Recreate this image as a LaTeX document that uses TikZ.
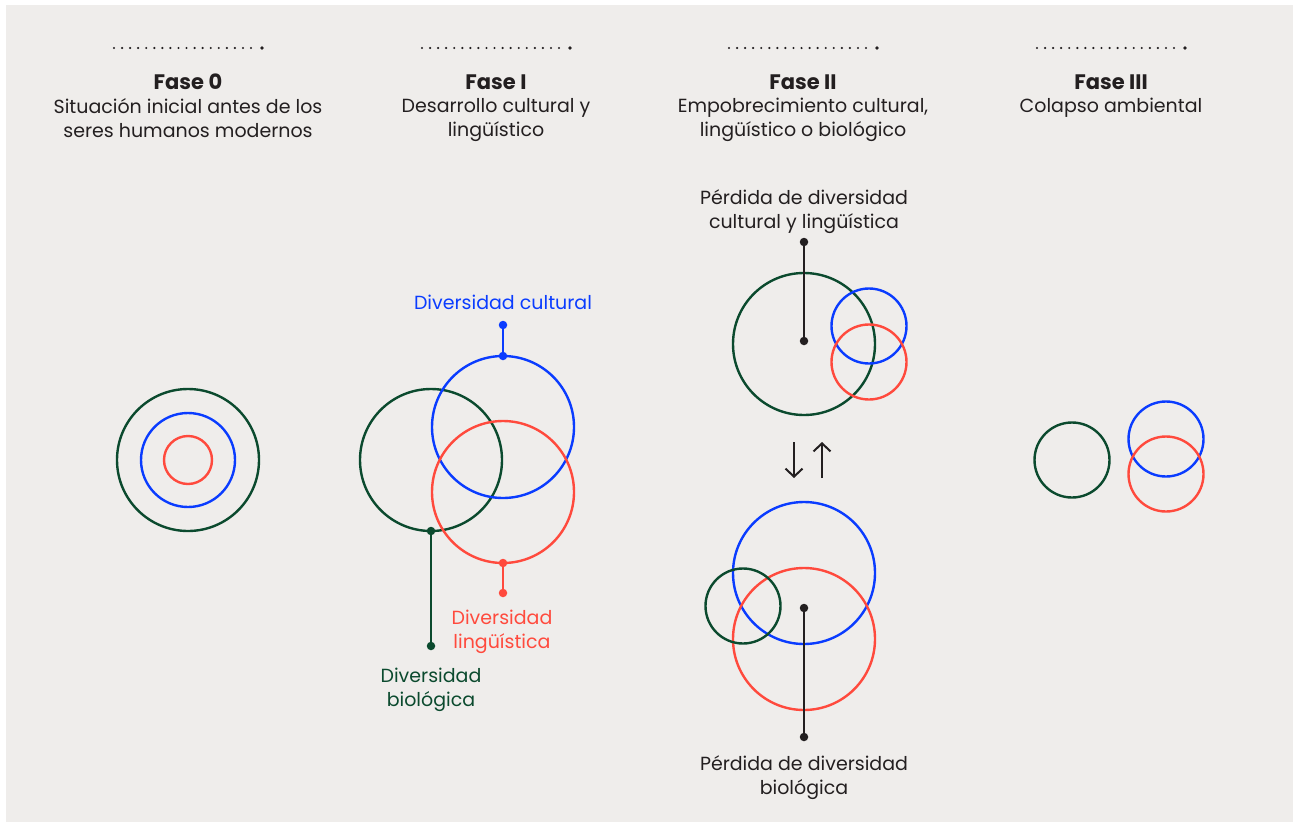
\documentclass[tikz,border=0pt]{standalone}
\usepackage{fontspec}
\setmainfont{Poppins}
\usetikzlibrary{arrows.meta}

\definecolor{paper}{HTML}{EFEDEB}
\definecolor{bioGreen}{HTML}{0B4A2E}
\definecolor{culBlue}{HTML}{0A3CFF}
\definecolor{lingRed}{HTML}{FF4A3D}
\definecolor{ink}{HTML}{231F20}

\tikzset{
  ring/.style={circle, draw, line width=2.4pt, inner sep=0pt, outer sep=0pt, minimum size=#1},
  pindot/.style={circle, fill, inner sep=0pt, minimum size=8.5pt},
  pinline/.style={line width=2pt},
  phasetitle/.style={font=\bfseries\fontsize{21}{24}\selectfont, text=ink, anchor=base},
  phasetext/.style={align=center, font=\fontsize{19}{24}\selectfont, text=ink, anchor=north, inner sep=0pt},
  tagtext/.style={align=center, font=\fontsize{19}{24}\selectfont},
  swaparrow/.style={line width=2pt, ink, -{Straight Barb[length=8pt,width=17pt,line width=2pt]}},
}

\begin{document}
\begin{tikzpicture}[x=1pt, y=-1pt]
    % Page and background
    \useasboundingbox (0,0) rectangle (1293,822);
    \fill[white] (0,0) rectangle (1293,822);
    \fill[paper] (6,5) rectangle (1293,822);

    % Phase headers
    \foreach \x/\ph/\title/\desc in {
        188/p0/{Fase 0}/{Situación inicial antes de los\\seres humanos modernos},
        496/p1/{Fase I}/{Desarrollo cultural y\\lingüístico},
        803/p2/{Fase II}/{Empobrecimiento cultural,\\lingüístico o biológico},
        1111/p3/{Fase III}/{Colapso ambiental}} {
        \foreach \k in {0,...,17} {
            \fill[ink] (\x-74+\k*8.06, 48) circle (1.2);
        }
        \fill[ink] (\x+74, 48) circle (1.8);
        \node[phasetitle] (title\ph) at (\x,89) {\title};
        \node[phasetext] (desc\ph) at (\x,98) {\desc};
    }

    % Fase 0: nested circles
    \node[ring=142pt, bioGreen] (g0) at (188,460) {};
    \node[ring=94pt, culBlue] (b0) at (188,460) {};
    \node[ring=48pt, lingRed] (r0) at (188,460) {};

    % Fase I: growing diversity
    \node[ring=142pt, bioGreen] (g1) at (431,460) {};
    \node[ring=142pt, culBlue] (b1) at (503,427) {};
    \node[ring=142pt, lingRed] (r1) at (503,492) {};

    \node[pindot, culBlue] (b1top) at (b1.north) {};
    \node[pindot, culBlue] (b1end) at (503,325) {};
    \draw[pinline, culBlue] (b1top) -- (b1end);
    \node[tagtext, culBlue] (b1tag) at (503,302) {Diversidad cultural};

    \node[pindot, lingRed] (r1bot) at (r1.south) {};
    \node[pindot, lingRed] (r1end) at (503,593) {};
    \draw[pinline, lingRed] (r1bot) -- (r1end);
    \node[tagtext, lingRed] (r1tag) at (502,632) {Diversidad\\lingüística};

    \node[pindot, bioGreen] (g1bot) at (g1.south) {};
    \node[pindot, bioGreen] (g1end) at (431,646) {};
    \draw[pinline, bioGreen] (g1bot) -- (g1end);
    \node[tagtext, bioGreen] (g1tag) at (431,690) {Diversidad\\biológica};

    % Fase II (top): cultural and linguistic loss
    \node[ring=142pt, bioGreen] (g2a) at (804,344) {};
    \node[ring=75pt, culBlue] (b2a) at (869,326) {};
    \node[ring=75pt, lingRed] (r2a) at (869,362) {};

    \node[pindot, ink] (g2amid) at (804,341) {};
    \node[pindot, ink] (g2aend) at (804,242) {};
    \draw[pinline, ink] (g2amid) -- (g2aend);
    \node[tagtext, ink] (g2atag) at (804,212) {Pérdida de diversidad\\cultural y lingüística};

    % Fase II: two-way link
    \coordinate (dnA) at (794,442);
    \coordinate (dnB) at (794,478);
    \coordinate (upA) at (822,478);
    \coordinate (upB) at (822,442);
    \draw[swaparrow] (dnA) -- (dnB);
    \draw[swaparrow] (upA) -- (upB);

    % Fase II (bottom): biological loss
    \node[ring=142pt, culBlue] (b2b) at (804,573) {};
    \node[ring=142pt, lingRed] (r2b) at (804,639) {};
    \node[ring=75pt, bioGreen] (g2b) at (743,606) {};

    \node[pindot, ink] (r2bmid) at (804,608) {};
    \node[pindot, ink] (r2bend) at (804,737) {};
    \draw[pinline, ink] (r2bmid) -- (r2bend);
    \node[tagtext, ink] (r2btag) at (804,778) {Pérdida de diversidad\\biológica};

    % Fase III: collapse
    \node[ring=75pt, bioGreen] (g3) at (1072,460) {};
    \node[ring=75pt, culBlue] (b3) at (1166,439) {};
    \node[ring=75pt, lingRed] (r3) at (1166,474) {};
\end{tikzpicture}
\end{document}
